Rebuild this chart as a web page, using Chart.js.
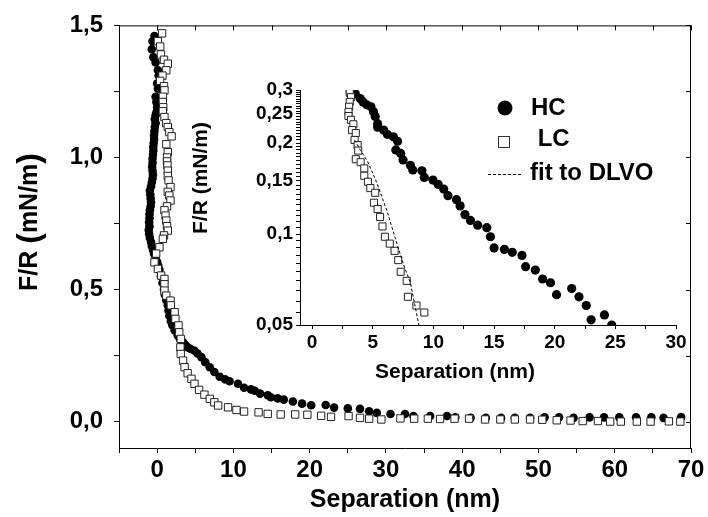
<!DOCTYPE html>
<html lang="en">
<head>
<meta charset="UTF-8">
<title>F/R vs separation</title>
<script src="https://cdn.jsdelivr.net/npm/chart.js"></script>
<style>
  body { margin: 0; background: #fff; }
  .wrap { position: relative; width: 708px; height: 517px; }
  #mainChart { position: absolute; left: 0; top: 0; }
  #insetChart { position: absolute; left: 180px; top: 70px; }
</style>
</head>
<body>
<div class="wrap">
  <canvas id="mainChart" width="708" height="517"></canvas>
  <canvas id="insetChart" width="520" height="320"></canvas>
</div>
<script>
// --- main plot data ---
const hcX = [-0.35, -0.6, -0.7, -0.5, -0.2, 0.1, 0.2, 0.0, 0.1, -0.2, -0.1, 0.0, -0.1,
  -0.2, -0.3, -0.2, -0.3, -0.35, -0.4, -0.4, -0.45, -0.5, -0.5, -0.55, -0.6, -0.6, -0.65, -0.6,
  -0.55, -0.6, -0.7, -0.8, -0.95, -0.9, -0.85, -0.8, -0.85, -0.95, -1.0, -1.0, -1.05, -1.0, -1.1,
  -1.05, -0.95, -0.8, -0.7, -0.55, -0.4, -0.2, 0.0, 0.15, 0.3,
  0.5, 0.7, 0.9, 1.0, 1.2, 1.4, 1.5, 1.6, 1.8, 2.0, 2.3, 2.7, 3.0, 3.4, 3.7, 4.0, 4.4, 4.9, 5.3,
  5.8, 6.3, 6.9, 7.5, 8.2, 8.9, 9.5, 10.6, 11.4, 12.3, 12.8, 13.5, 14.5, 14.9, 15.8, 16.6, 17.8,
  19.0, 20.2, 22.1, 23.2, 25.0, 26.6, 27.8, 28.8, 30.6, 32.5, 33.6, 35.8, 38.0, 39.1, 41.1, 43.1,
  45.1, 46.9, 48.9, 50.8, 52.7, 54.6, 56.7, 58.6, 60.6, 62.8, 64.8, 66.4, 68.7];
const hcY = [1.46, 1.44, 1.41, 1.38, 1.36, 1.33, 1.31, 1.28, 1.26, 1.23, 1.21, 1.19, 1.17,
  1.16, 1.145, 1.13, 1.115, 1.10, 1.085, 1.07, 1.055, 1.04, 1.025, 1.01, 0.995, 0.98, 0.965, 0.95,
  0.935, 0.92, 0.905, 0.89, 0.875, 0.86, 0.845, 0.83, 0.815, 0.80, 0.785, 0.77, 0.755, 0.74, 0.725,
  0.71, 0.695, 0.68, 0.665, 0.65, 0.635, 0.62, 0.605, 0.59, 0.575,
  0.55, 0.525, 0.50, 0.48, 0.46, 0.44, 0.42, 0.40, 0.38, 0.365, 0.345, 0.326, 0.312, 0.30, 0.29,
  0.281, 0.275, 0.268, 0.258, 0.244, 0.225, 0.206, 0.188, 0.17, 0.16, 0.153, 0.143, 0.128, 0.122,
  0.117, 0.106, 0.10, 0.092, 0.088, 0.083, 0.076, 0.068, 0.062, 0.063, 0.053, 0.05, 0.048, 0.039,
  0.033, 0.029, 0.029, 0.021, 0.021, 0.021, 0.016, 0.014, 0.014, 0.014, 0.014, 0.014, 0.016, 0.016,
  0.014, 0.016, 0.016, 0.016, 0.016, 0.016, 0.014, 0.017];

const lcX = [0.65, 0.1, 0.4, 0.5, 0.9, 1.4, 1.2, 0.7, 0.4, 0.9, 0.96, 0.75, 0.75, 0.8, 0.75, 0.96,
  1.2, 1.4, 1.6, 1.9, 1.2, 1.4, 1.3, 1.3, 1.35, 1.4, 1.4, 1.5, 1.75, 1.4, 1.6, 1.75, 1.3, 0.96, 1.1,
  1.2, 1.3, 1.4, 0.9, 0.75, 0.3, -0.13, -0.35, 0.1, 0.52, 0.96, 0.96, 0.96, 1.2, 1.75, 1.8, 2.3, 2.4,
  2.8, 2.9, 3.1, 3.05, 3.1, 3.4, 3.6, 4.0, 4.5, 4.9, 5.5, 6.2, 6.9, 7.5, 8.0, 9.3, 10.4, 11.4, 13.3,
  14.5, 16.2, 18.1, 19.7, 21.5, 22.8, 25.1, 26.6, 27.8, 29.4, 31.9, 33.7, 35.5, 37.1, 39.0, 40.9,
  43.0, 45.0, 46.9, 48.9, 50.5, 52.4, 54.2, 55.8, 57.8, 59.4, 60.8, 62.9, 64.7, 67.1, 68.6];
const lcY = [1.47, 1.44, 1.42, 1.39, 1.37, 1.355, 1.33, 1.31, 1.29, 1.27, 1.254, 1.23, 1.21, 1.19,
  1.175, 1.153, 1.13, 1.115, 1.096, 1.08, 1.05, 1.02, 1.0, 0.985, 0.97, 0.95, 0.93, 0.913, 0.888,
  0.87, 0.856, 0.837, 0.815, 0.80, 0.78, 0.761, 0.74, 0.723, 0.705, 0.692, 0.66, 0.636, 0.603,
  0.578, 0.553, 0.54, 0.52, 0.496, 0.477, 0.458, 0.44, 0.414, 0.389, 0.364, 0.338, 0.313, 0.281,
  0.256, 0.231, 0.206, 0.183, 0.162, 0.143, 0.12, 0.102, 0.086, 0.073, 0.061, 0.054, 0.044, 0.038,
  0.035, 0.029, 0.027, 0.027, 0.026, 0.022, 0.018, 0.021, 0.014, 0.011, 0.008, 0.012, 0.011, 0.011,
  0.01, 0.011, 0.011, 0.008, 0.008, 0.008, 0.008, 0.007, 0.005, 0.004, 0.002, 0.002, 0.0, 0.0,
  0.0, 0.0, 0.001, 0.0];

const mainXTicks = [-5, 0, 5, 10, 15, 20, 25, 30, 35, 40, 45, 50, 55, 60, 65, 70];
const mainXLabels = [0, 10, 20, 30, 40, 50, 60, 70];
const mainYTicks = [0, 0.25, 0.5, 0.75, 1.0, 1.25, 1.5];
const mainYLabels = [0, 0.5, 1.0, 1.5];

// --- inset (log scale) data ---
const inHcX = [3.3, 3.55, 3.96, 4.2, 4.5, 4.85, 5.06, 5.2, 5.4, 5.4, 5.9, 6.2, 6.7, 7.05, 6.9, 7.3,
  7.5, 8.1, 8.3, 9.05, 9.25, 9.96, 10.4, 10.85, 11.2, 11.9, 12.2, 12.6, 13.05, 13.65, 14.4, 14.7,
  15.0, 15.85, 16.5, 17.3, 17.6, 18.4, 19.0, 19.65, 20.15, 21.4, 22.0, 22.6, 23.0, 24.1, 24.7];
const inHcY = [0.299, 0.292, 0.281, 0.274, 0.268, 0.264, 0.254, 0.245, 0.232, 0.226, 0.221, 0.214,
  0.21, 0.203, 0.19, 0.185, 0.176, 0.169, 0.163, 0.162, 0.154, 0.151, 0.146, 0.141, 0.134, 0.13,
  0.124, 0.116, 0.111, 0.107, 0.105, 0.098, 0.09, 0.089, 0.087, 0.085, 0.078, 0.076, 0.071, 0.069,
  0.063, 0.066, 0.062, 0.058, 0.052, 0.054, 0.05];

const inLcX = [3.1, 3.1, 3.2, 3.1, 3.05, 3.0, 3.0, 3.2, 3.4, 3.3, 3.6, 3.5, 3.75, 3.8, 3.6, 4.0, 4.3,
  4.3, 4.6, 4.8, 5.2, 5.1, 5.4, 5.6, 5.8, 6.0, 6.4, 6.8, 7.1, 7.3, 7.8, 7.9, 8.6, 9.25];
const inLcY = [0.299, 0.294, 0.284, 0.274, 0.264, 0.254, 0.246, 0.239, 0.231, 0.221, 0.216, 0.205,
  0.197, 0.189, 0.177, 0.173, 0.165, 0.156, 0.149, 0.142, 0.137, 0.127, 0.121, 0.114, 0.106, 0.098,
  0.093, 0.088, 0.082, 0.075, 0.07, 0.062, 0.058, 0.055];

const fitX = [3.5, 4.0, 4.57, 5.3, 6.15, 6.85, 7.5, 8.1, 8.8];
const fitY = [0.205, 0.189, 0.174, 0.149, 0.12, 0.097, 0.08, 0.069, 0.05];

const inXTicks = [0, 2.5, 5, 7.5, 10, 12.5, 15, 17.5, 20, 22.5, 25, 27.5, 30];
const inXLabels = [0, 5, 10, 15, 20, 25, 30];
const inYLabels = [0.05, 0.1, 0.15, 0.2, 0.25, 0.3];
const inYMinorStep = 0.005;

const pts = (xs, ys) => xs.map((x, i) => ({ x: x, y: ys[i] }));
const comma = v => String(v).replace('.', ',');
const has = (list, v) => list.some(l => Math.abs(l - v) < 1e-9);

const FONT = '"Liberation Sans", Arial, Helvetica, sans-serif';
Chart.defaults.font.family = FONT;
Chart.defaults.font.weight = 'bold';
Chart.defaults.color = '#000';

// draw a run of text pieces (different sizes) centred on (cx, cy), optionally rotated
function drawPieces(ctx, pieces, cx, cy, rotate) {
  ctx.save();
  ctx.translate(cx, cy);
  if (rotate) ctx.rotate(-Math.PI / 2);
  ctx.fillStyle = '#000';
  ctx.textBaseline = 'middle';
  ctx.textAlign = 'left';
  let total = 0;
  pieces.forEach(p => { ctx.font = 'bold ' + p.size + 'px ' + FONT; total += ctx.measureText(p.text).width; });
  let x = -total / 2;
  pieces.forEach(p => {
    ctx.font = 'bold ' + p.size + 'px ' + FONT;
    ctx.fillText(p.text, x, 0);
    x += ctx.measureText(p.text).width;
  });
  ctx.restore();
}

// closed box with inward ticks on top and right edges, plus the y title
const framePlugin = {
  id: 'frame',
  afterDraw(chart) {
    const { ctx, chartArea: a, scales } = chart;
    ctx.save();
    ctx.strokeStyle = '#000';
    ctx.lineWidth = 1;
    ctx.beginPath();
    ctx.moveTo(a.left, a.top + 0.5); ctx.lineTo(a.right, a.top + 0.5);
    ctx.moveTo(a.right - 0.5, a.top); ctx.lineTo(a.right - 0.5, a.bottom);
    scales.x.ticks.forEach(t => {
      const px = Math.round(scales.x.getPixelForValue(t.value)) + 0.5;
      ctx.moveTo(px, a.top); ctx.lineTo(px, a.top + 5);
    });
    scales.y.ticks.forEach(t => {
      const py = Math.round(scales.y.getPixelForValue(t.value)) + 0.5;
      ctx.moveTo(a.right, py); ctx.lineTo(a.right - 5, py);
    });
    ctx.stroke();
    ctx.restore();
    drawPieces(ctx, [
      { text: 'F/R ', size: 25 }, { text: '(', size: 32 }, { text: 'mN/m', size: 25 }, { text: ')', size: 32 }
    ], 30, 222, true);
  }
};

// legend and axis titles drawn at fixed spots inside the inset
const insetLegend = {
  id: 'insetLegend',
  afterDraw(chart) {
    const ctx = chart.ctx;
    const ds = chart.data.datasets;
    ctx.save();
    ctx.font = 'bold 24px ' + FONT;
    ctx.fillStyle = '#000';
    ctx.textBaseline = 'alphabetic';
    ctx.beginPath();
    ctx.arc(325, 38, 7.5, 0, Math.PI * 2);
    ctx.fill();
    ctx.fillText(ds[0].label, 351, 45);
    ctx.strokeStyle = '#333';
    ctx.lineWidth = 1;
    ctx.strokeRect(318.5, 66.5, 11, 11);
    ctx.fillText(' ' + ds[1].label, 351, 76);
    ctx.setLineDash([3, 2]);
    ctx.beginPath();
    ctx.moveTo(308, 104.5); ctx.lineTo(342, 104.5);
    ctx.strokeStyle = '#000';
    ctx.stroke();
    ctx.fillText(ds[2].label, 350, 110);
    ctx.restore();
    drawPieces(ctx, [{ text: 'Separation (nm)', size: 21 }], 275, 302, false);
    drawPieces(ctx, [{ text: 'F/R (mN/m)', size: 21 }], 21, 108, true);
  }
};

const axisCommon = {
  border: { display: true, color: '#000', width: 1 },
  grid: { display: true, drawOnChartArea: false, drawTicks: true, tickColor: '#000', tickLength: 5 }
};

new Chart(document.getElementById('mainChart'), {
  type: 'scatter',
  data: {
    datasets: [
      {
        label: 'HC', data: pts(hcX, hcY), order: 2,
        pointStyle: 'circle', pointRadius: 4.3, backgroundColor: '#000', borderColor: '#000', borderWidth: 0
      },
      {
        label: 'LC', data: pts(lcX, lcY), order: 1,
        pointStyle: 'rect', pointRadius: 5.2, backgroundColor: '#fff', borderColor: '#222', borderWidth: 1
      }
    ]
  },
  options: {
    responsive: false,
    animation: false,
    devicePixelRatio: 1,
    layout: { padding: { top: 25, right: 17, left: 0, bottom: 0 } },
    plugins: { legend: { display: false }, tooltip: { enabled: false } },
    scales: {
      x: {
        ...axisCommon,
        type: 'linear', min: -5, max: 70,
        afterBuildTicks: s => { s.ticks = mainXTicks.map(v => ({ value: v })); },
        afterFit: s => { s.height = 69; },
        ticks: {
          autoSkip: false, maxRotation: 0, minRotation: 0, padding: 3,
          font: { size: 24, weight: 'bold' },
          callback: v => has(mainXLabels, v) ? String(v) : ''
        },
        title: { display: true, text: 'Separation (nm)', font: { size: 25, weight: 'bold' }, padding: { top: 0, bottom: 2 } }
      },
      y: {
        ...axisCommon,
        type: 'linear', min: -0.1, max: 1.5,
        afterBuildTicks: s => { s.ticks = mainYTicks.map(v => ({ value: v })); },
        afterFit: s => { s.width = 119; },
        ticks: {
          autoSkip: false, padding: 11,
          font: { size: 24, weight: 'bold' },
          callback: v => has(mainYLabels, v) ? v.toFixed(1).replace('.', ',') : ''
        },
        title: { display: false }
      }
    }
  },
  plugins: [framePlugin]
});

new Chart(document.getElementById('insetChart'), {
  type: 'scatter',
  data: {
    datasets: [
      {
        label: 'HC', data: pts(inHcX, inHcY), order: 2,
        pointStyle: 'circle', pointRadius: 4.6, backgroundColor: '#000', borderColor: '#000', borderWidth: 0
      },
      {
        label: 'LC', data: pts(inLcX, inLcY), order: 1,
        pointStyle: 'rect', pointRadius: 5, backgroundColor: '#fff', borderColor: '#222', borderWidth: 1
      },
      {
        label: 'fit to DLVO', data: pts(fitX, fitY), order: 0,
        showLine: true, pointRadius: 0, borderColor: '#000', borderWidth: 1, borderDash: [3, 2], fill: false
      }
    ]
  },
  options: {
    responsive: false,
    animation: false,
    devicePixelRatio: 1,
    layout: { padding: { top: 20, right: 24, left: 0, bottom: 0 } },
    plugins: { legend: { display: false }, tooltip: { enabled: false } },
    scales: {
      x: {
        ...axisCommon,
        grid: { ...axisCommon.grid, tickLength: 4 },
        type: 'linear', min: -1, max: 30,
        afterBuildTicks: s => { s.ticks = inXTicks.map(v => ({ value: v })); },
        afterFit: s => { s.height = 65; },
        ticks: {
          autoSkip: false, maxRotation: 0, minRotation: 0, padding: 2,
          font: { size: 19, weight: 'bold' },
          callback: v => has(inXLabels, v) ? String(v) : ''
        },
        title: { display: false }
      },
      y: {
        ...axisCommon,
        grid: { ...axisCommon.grid, tickLength: 4 },
        type: 'logarithmic', min: 0.05, max: 0.3,
        afterBuildTicks: s => {
          const t = [];
          for (let v = inYLabels[0]; v <= inYLabels[inYLabels.length - 1] + 1e-9; v += inYMinorStep) {
            t.push({ value: Math.round(v * 1000) / 1000 });
          }
          s.ticks = t;
        },
        afterFit: s => { s.width = 120; },
        ticks: {
          autoSkip: false, padding: 3,
          font: { size: 19, weight: 'bold' },
          callback: v => has(inYLabels, v) ? comma(v) : ''
        },
        title: { display: false }
      }
    }
  },
  plugins: [insetLegend]
});
</script>
</body>
</html>
